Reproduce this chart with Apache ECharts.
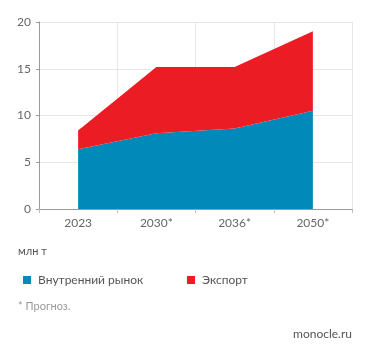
<!DOCTYPE html>
<html><head><meta charset="utf-8">
<script src="https://cdn.jsdelivr.net/npm/echarts@6/dist/echarts.min.js"></script>
<style>html,body{margin:0;padding:0;background:#fff}#c{width:371px;height:357px}</style>
</head><body><div id="c"></div>
<script>
const categories = ['2023', '2030*', '2036*', '2050*'];
const domestic = [6.4, 8.1, 8.6, 10.5];
const exportVals = [2.0, 7.1, 6.6, 8.5];
const seriesNames = ['Внутренний рынок', 'Экспорт'];
const yTicks = [0, 5, 10, 15, 20];

const FONT = 'Lato, "Noto Sans", sans-serif';
const chart = echarts.init(document.getElementById('c'), null, {renderer: 'canvas'});
chart.setOption({
  animation: false,
  textStyle: {fontFamily: FONT},
  grid: {left: 39, right: 19, top: 22, bottom: 148, containLabel: false},
  xAxis: {
    type: 'category', data: categories, boundaryGap: true,
    axisLine: {show: true, lineStyle: {color: '#9a9a9a', width: 1}},
    axisTick: {show: true, length: 4, lineStyle: {color: '#bbb'}},
    axisLabel: {color: '#666', fontSize: 12, fontFamily: FONT, margin: 8},
    splitLine: {show: true, lineStyle: {color: '#e6e6e6'}}
  },
  yAxis: {
    type: 'value', min: yTicks[0], max: yTicks[yTicks.length-1], interval: 5,
    axisLine: {show: true, lineStyle: {color: '#9a9a9a', width: 1}},
    axisTick: {show: true, length: 3, lineStyle: {color: '#9a9a9a'}},
    axisLabel: {color: '#666', fontSize: 12, fontFamily: FONT, margin: 8},
    splitLine: {show: true, lineStyle: {color: '#e6e6e6'}}
  },
  legend: [
    {left: 18, top: 269, itemWidth: 8, itemHeight: 8, icon: 'rect', itemGap: 0,
     textStyle: {color: '#555', fontSize: 12, fontFamily: FONT, padding: [0,0,0,2]},
     data: [seriesNames[0]], selectedMode: false},
    {left: 182, top: 269, itemWidth: 8, itemHeight: 8, icon: 'rect', itemGap: 0,
     textStyle: {color: '#555', fontSize: 12, fontFamily: FONT, padding: [0,0,0,2]},
     data: [seriesNames[1]], selectedMode: false}
  ],
  graphic: [
    {type: 'text', left: 18, top: 246, style: {text: 'млн т', fill: '#555', font: '11px ' + FONT}},
    {type: 'text', left: 18, top: 301, style: {text: '* Прогноз.', fill: '#999', font: '11px ' + FONT}},
    {type: 'text', right: 19, top: 328, style: {text: 'monocle.ru', fill: '#555', font: '12px ' + FONT}}
  ],
  series: [
    {name: seriesNames[0], type: 'line', stack: 'total', data: domestic,
     symbol: 'none', lineStyle: {width: 0}, itemStyle: {color: '#0089b9'},
     areaStyle: {color: '#0089b9', opacity: 1}},
    {name: seriesNames[1], type: 'line', stack: 'total', data: exportVals,
     symbol: 'none', lineStyle: {width: 0}, itemStyle: {color: '#ec1c24'},
     areaStyle: {color: '#ec1c24', opacity: 1}}
  ]
});
</script></body></html>
